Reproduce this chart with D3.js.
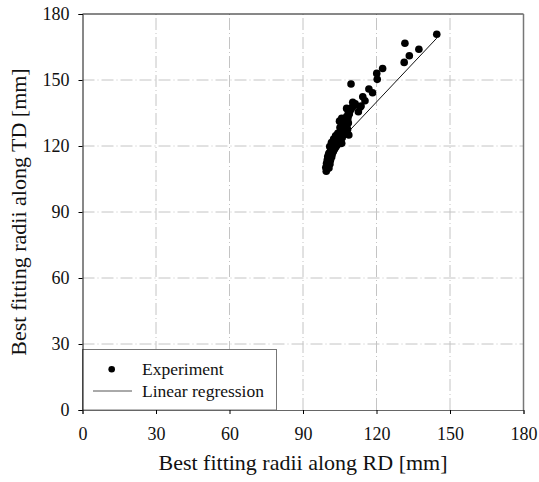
<!DOCTYPE html>
<html>
<head>
<meta charset="utf-8">
<script src="https://cdn.jsdelivr.net/npm/d3@7"></script>
<style>
  body { margin: 0; background: #fff; }
  svg { display: block; }
</style>
</head>
<body>
<div id="okvir"></div>
<script>
// Measured points: RD radius vs TD radius [mm]
var rdValues = [
  99.5, 99.8, 99.3, 100.0, 99.6, 100.2, 99.9, 100.4, 100.1, 100.7, 100.5, 101.0,
  101.3, 101.6, 102.0, 102.3, 102.8, 103.1, 103.5, 103.9, 104.3, 104.6, 105.0, 105.4,
  105.2, 105.8, 106.2, 106.0, 106.5, 106.9, 106.4, 107.1, 107.5, 107.2, 105.8, 104.9,
  108.0, 108.3, 107.8, 108.6, 108.9, 108.5, 109.3, 109.7, 110.2, 110.8, 111.3, 107.8,
  110.3, 112.6, 113.3, 105.8, 108.7, 108.2, 107.6,
  100.6, 101.0, 101.2, 101.7, 101.9, 102.4, 102.9, 103.4, 104.0, 104.6, 105.3, 106.0,
  106.7, 107.3, 107.9, 108.5, 104.2, 103.3, 102.5, 101.6, 100.9, 106.1, 105.1,
  109.6, 116.9, 118.4, 114.4, 115.3, 113.7, 120.1, 120.3, 122.5, 131.3, 133.4,
  137.3, 131.6, 144.6
];
var tdValues = [
  108.5, 109.5, 110.2, 111.0, 112.0, 112.8, 113.6, 114.3, 115.2, 115.8, 116.6, 117.2,
  118.0, 118.8, 119.4, 120.1, 120.6, 121.3, 121.9, 122.4, 123.0, 123.7, 124.2, 124.9,
  125.6, 126.1, 126.7, 127.5, 128.0, 128.6, 129.3, 129.9, 130.4, 131.2, 132.6, 131.3,
  131.8, 132.5, 133.4, 134.0, 134.7, 135.5, 136.2, 137.0, 137.8, 138.5, 139.2, 137.1,
  139.9, 135.6, 137.6, 121.2, 125.0, 127.5, 126.3,
  110.0, 111.8, 113.5, 115.0, 116.3, 117.5, 118.6, 119.6, 120.5, 121.5, 122.6, 123.8,
  125.2, 126.9, 128.8, 130.5, 125.8, 124.6, 123.2, 121.6, 119.8, 130.0, 128.4,
  148.2, 145.9, 144.2, 142.4, 140.6, 138.2, 153.0, 150.3, 155.2, 158.0, 161.0,
  164.0, 166.7, 170.8
];
// Linear regression TD = a*RD + b
var regSlope = 1.18;
var regIntercept = -1.6;

var tickValues = [0, 30, 60, 90, 120, 150, 180];
var legendLabels = ["Experiment", "Linear regression"];

function crtaj() {
    var width = 539;
    var height = 482;
    var margin = { top: 14, right: 15.5, bottom: 72, left: 82.5 };
    var serif = "Liberation Serif, Times New Roman, serif";

    var svg = d3.select("#okvir")
        .append("svg")
        .attr("width", width)
        .attr("height", height)
        .style("font-family", serif);

    var x = d3.scaleLinear()
        .domain([0, 180])
        .range([margin.left, width - margin.right]);

    var y = d3.scaleLinear()
        .domain([0, 180])
        .range([height - margin.bottom, margin.top]);

    // grid
    svg.append("g")
        .selectAll("line")
        .data(tickValues.slice(1, -1))
        .enter()
        .append("line")
        .attr("x1", d => x(d)).attr("x2", d => x(d))
        .attr("y1", y(0)).attr("y2", y(180))
        .attr("stroke", "#c4c4c4")
        .attr("stroke-dasharray", "12,3,1,3");

    svg.append("g")
        .selectAll("line")
        .data(tickValues.slice(1, -1))
        .enter()
        .append("line")
        .attr("y1", d => y(d)).attr("y2", d => y(d))
        .attr("x1", x(0)).attr("x2", x(180))
        .attr("stroke", "#c4c4c4")
        .attr("stroke-dasharray", "12,3,1,3");

    // frame: top and right
    svg.append("line")
        .attr("x1", x(0)).attr("x2", x(180))
        .attr("y1", y(180)).attr("y2", y(180))
        .attr("stroke", "#111");
    svg.append("line")
        .attr("x1", x(180)).attr("x2", x(180))
        .attr("y1", y(180)).attr("y2", y(0))
        .attr("stroke", "#777")
        .attr("stroke-width", 1.5);

    // regression line
    var xMin = d3.min(rdValues), xMax = d3.max(rdValues);
    svg.append("line")
        .attr("x1", x(xMin)).attr("y1", y(regSlope * xMin + regIntercept))
        .attr("x2", x(xMax)).attr("y2", y(regSlope * xMax + regIntercept))
        .attr("stroke", "#111")
        .attr("stroke-width", 1);

    // points
    svg.append("g")
        .selectAll("circle")
        .data(d3.range(rdValues.length))
        .enter()
        .append("circle")
        .attr("cx", i => x(rdValues[i]))
        .attr("cy", i => y(tdValues[i]))
        .attr("r", 3.8)
        .attr("fill", "#000");

    // legend box
    var lg = svg.append("g");
    lg.append("rect")
        .attr("x", x(0))
        .attr("y", 349.5)
        .attr("width", 194)
        .attr("height", y(0) - 349.5)
        .attr("fill", "#fff")
        .attr("stroke", "#777");
    lg.append("circle")
        .attr("cx", 111.7).attr("cy", 369.3).attr("r", 3.3).attr("fill", "#000");
    lg.append("line")
        .attr("x1", 93).attr("x2", 132).attr("y1", 391).attr("y2", 391)
        .attr("stroke", "#555");
    lg.selectAll("text")
        .data(legendLabels)
        .enter()
        .append("text")
        .attr("x", 142)
        .attr("y", (d, i) => 375 + i * 21.5)
        .style("font-size", "17.5px")
        .attr("fill", "#111")
        .text(d => d);

    // y axis
    var yAxis = svg.append("g")
        .attr("transform", "translate(" + margin.left + ",0)")
        .call(d3.axisLeft(y).tickValues(tickValues).tickSize(4).tickPadding(9));
    yAxis.select(".domain").attr("stroke", "#111");
    yAxis.selectAll("text")
        .style("font-family", serif)
        .style("font-size", "18px")
        .attr("fill", "#111");

    // x axis
    var xAxis = svg.append("g")
        .attr("transform", "translate(0," + (height - margin.bottom) + ")")
        .call(d3.axisBottom(x).tickValues(tickValues).tickSize(4).tickPadding(13));
    xAxis.select(".domain").attr("stroke", "#666");
    xAxis.selectAll("text")
        .style("font-family", serif)
        .style("font-size", "18px")
        .attr("fill", "#111");

    // axis titles
    svg.append("text")
        .attr("x", (x(0) + x(180)) / 2)
        .attr("y", 470)
        .style("text-anchor", "middle")
        .style("font-size", "22px")
        .attr("fill", "#111")
        .text("Best fitting radii along RD [mm]");

    svg.append("text")
        .attr("transform", "rotate(-90)")
        .attr("x", -(y(0) + y(180)) / 2)
        .attr("y", 26)
        .style("text-anchor", "middle")
        .style("font-size", "22px")
        .attr("fill", "#111")
        .text("Best fitting radii along TD [mm]");
}
crtaj();
</script>
</body>
</html>
